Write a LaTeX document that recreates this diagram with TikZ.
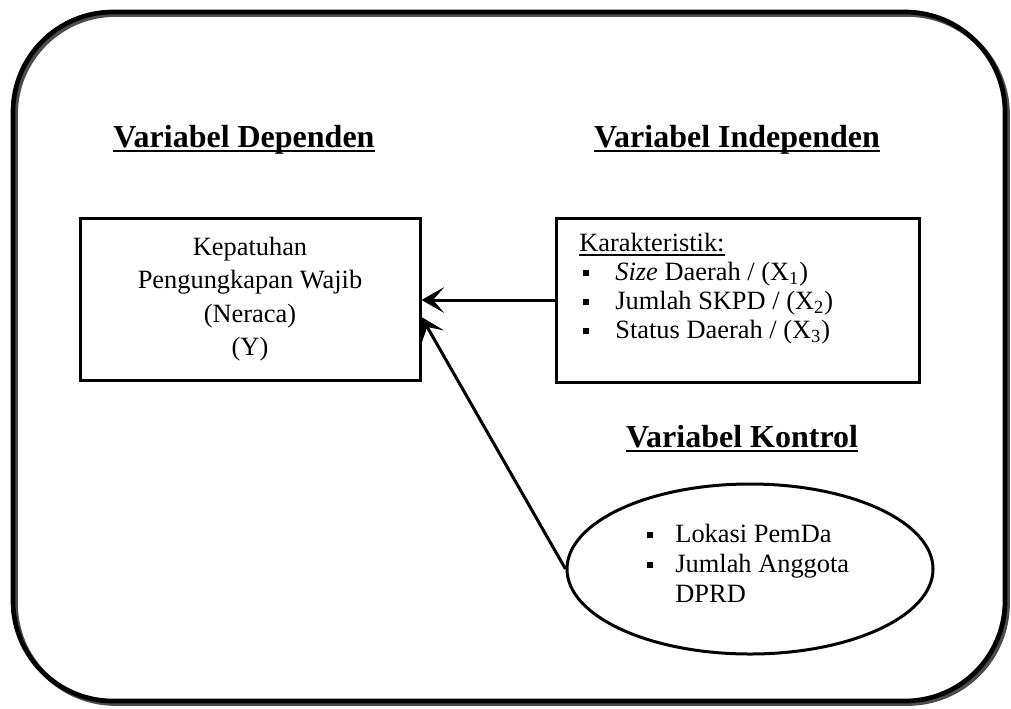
\documentclass[tikz,border=0pt]{standalone}
\usepackage{fontspec}
\setmainfont{Liberation Serif}
\usepackage{tikz}
\usetikzlibrary{arrows.meta}
\usetikzlibrary{shapes.geometric}
\usetikzlibrary{calc}

\newcommand{\ulbold}[1]{\setbox0\hbox{#1}\rlap{\rule[-2.65pt]{\wd0}{1.3pt}}\box0}
\newcommand{\ulthin}[1]{\setbox0\hbox{#1}\rlap{\rule[-1.9pt]{\wd0}{0.65pt}}\box0}
\newcommand{\sqbul}[1][16pt]{\makebox[#1][l]{\rule[2.2pt]{3pt}{3pt}}}

\begin{document}
\begin{tikzpicture}[x=0.5pt,y=-0.5pt,
        box/.style={draw,line width=1.5pt,rectangle,inner sep=0pt},
        head/.style={anchor=base,font=\fontsize{16}{19}\selectfont\bfseries},
        body/.style={font=\fontsize{13.2}{16.75}\selectfont},
        list/.style={anchor=north west,inner sep=0pt,align=flush left},
        link/.style={line width=1.5pt,-{Stealth[length=11.3pt,width=12.8pt,inset=5.5pt]}}]
        \useasboundingbox (0,0) rectangle (1011,708);
        \draw[black!70,line width=2.35pt,rounded corners=50pt,shift={(2.5,2.5)}] (13,12) rectangle (1005,701);
        \draw[line width=2.35pt,rounded corners=50pt] (13,12) rectangle (1005,701);

        \node[head] (hdep) at (244,147) {\ulbold{Variabel Dependen}};
        \node[head] (hindep) at (737,147) {\ulbold{Variabel Independen}};
        \node[head] (hkontrol) at (742,447) {\ulbold{Variabel Kontrol}};

        \node[box,body,align=center,minimum width=170pt,minimum height=81pt] (dep) at (250,299)
            {Kepatuhan\\Pengungkapan Wajib\\(Neraca)\\(Y)};

        \node[box,minimum width=181.5pt,minimum height=82pt] (indep) at (737.5,300) {};
        \node[list,text width=150pt,font=\fontsize{13.2}{14.5}\selectfont] (karakter) at (579,233)
            {\ulthin{Karakteristik:}\\
             \hspace*{2pt}\sqbul\textit{Size} Daerah / (X\textsubscript{1})\\
             \hspace*{2pt}\sqbul Jumlah SKPD / (X\textsubscript{2})\\
             \hspace*{2pt}\sqbul Status Daerah / (X\textsubscript{3})};

        \node[draw,ellipse,line width=1.5pt,minimum width=183pt,minimum height=85pt,inner sep=0pt] (kontrol) at (750,569) {};
        \node[list,text width=110pt,font=\fontsize{13.2}{15}\selectfont] (lokasi) at (647,524)
            {\sqbul[14pt]Lokasi PemDa\\
             \sqbul[14pt]Jumlah Anggota\\
             \hspace*{14pt}DPRD};

        \draw[link] (indep.west) -- (dep.east |- indep.west);
        \draw[link] (kontrol.west) -- ($(dep.east)+(0,18)$);
    \end{tikzpicture}
\end{document}
